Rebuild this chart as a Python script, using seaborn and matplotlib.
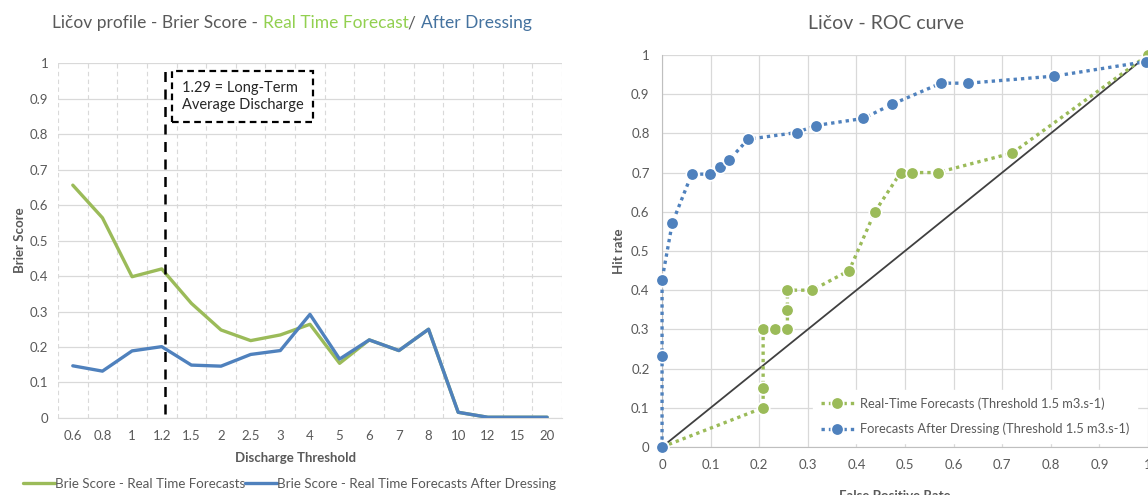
import matplotlib
matplotlib.use("Agg")
import matplotlib.pyplot as plt
import matplotlib.ticker as mticker
import seaborn as sns
import pandas as pd

# --- data: Brier score profile ---
thresholds = ["0.6", "0.8", "1", "1.2", "1.5", "2", "2.5", "3", "4", "5",
              "6", "7", "8", "10", "12", "15", "20"]
bs_real_time = [0.656, 0.564, 0.398, 0.420, 0.323, 0.248, 0.218, 0.234, 0.264,
                0.154, 0.220, 0.190, 0.250, 0.016, 0.002, 0.002, 0.002]
bs_dressed = [0.147, 0.132, 0.189, 0.201, 0.149, 0.146, 0.179, 0.190, 0.292,
              0.166, 0.220, 0.190, 0.250, 0.016, 0.002, 0.002, 0.002]
long_term_label = "1.29 = Long-Term\nAverage Discharge"

# --- data: ROC curve ---
fpr_real_time = [0, 0.208, 0.208, 0.208, 0.232, 0.258, 0.258, 0.258, 0.309,
                 0.385, 0.438, 0.491, 0.515, 0.567, 0.721, 1.0]
hit_real_time = [0, 0.10, 0.15, 0.30, 0.30, 0.30, 0.35, 0.40, 0.40,
                 0.45, 0.60, 0.70, 0.70, 0.70, 0.75, 1.0]
fpr_dressed = [0, 0, 0, 0.021, 0.061, 0.099, 0.119, 0.138, 0.177, 0.277,
               0.316, 0.414, 0.473, 0.574, 0.630, 0.807, 0.996]
hit_dressed = [0, 0.232, 0.427, 0.571, 0.696, 0.696, 0.715, 0.732, 0.785,
               0.802, 0.820, 0.838, 0.874, 0.928, 0.928, 0.946, 0.983]
diag = [0, 1]

lab_rt = "Brie Score - Real Time Forecasts"
lab_dr = "Brie Score - Real Time Forecasts After Dressing"
roc_rt = "Real-Time Forecasts (Threshold 1.5 m3.s-1)"
roc_dr = "Forecasts After Dressing (Threshold 1.5 m3.s-1)"

GREEN = "#9BBB59"
BLUE = "#4F81BD"
GREY = "#595959"
GRID = "#D9D9D9"

sns.set_style("white")
plt.rcParams["font.family"] = ["Lato", "DejaVu Sans"]
plt.rcParams["axes.unicode_minus"] = False

fig = plt.figure(figsize=(11.48, 4.95), dpi=100)
ax1 = fig.add_axes([0.0505, 0.1556, 0.439, 0.717])
ax2 = fig.add_axes([0.5767, 0.097, 0.4233, 0.792])

# ---------------- left: Brier score ----------------
df = pd.DataFrame({
    "threshold": thresholds * 2,
    "score": bs_real_time + bs_dressed,
    "series": [lab_rt] * len(thresholds) + [lab_dr] * len(thresholds),
})
sns.lineplot(data=df, x="threshold", y="score", hue="series", sort=False,
             palette=[GREEN, BLUE], linewidth=2.4, ax=ax1, zorder=3)

ax1.set_xlim(-0.5, len(thresholds) - 0.5)
ax1.set_ylim(0, 1)
ax1.yaxis.set_major_locator(mticker.MultipleLocator(0.1))
ax1.yaxis.set_major_formatter(mticker.FuncFormatter(lambda v, p: f"{v:g}"))
ax1.set_xticks([i + 0.5 for i in range(-1, len(thresholds))], minor=True)
ax1.grid(axis="y", which="major", color=GRID, lw=0.9)
ax1.grid(axis="x", which="minor", color=GRID, lw=0.8, ls=(0, (4, 3)))
ax1.tick_params(axis="both", which="both", length=0, labelsize=9.5, labelcolor=GREY)
ax1.tick_params(axis="x", pad=9)
ax1.tick_params(axis="y", pad=7)
for s in ["top", "right", "left"]:
    ax1.spines[s].set_visible(False)
ax1.spines["bottom"].set_color(GRID)

ax1.axvline(3.1, ymin=0.01, ymax=0.985, color="black", lw=1.8, ls=(0, (4, 3)), zorder=4)
ax1.text(3.68, 0.906, long_term_label, fontsize=10.5, color="#262626", va="center",
         linespacing=1.3,
         bbox=dict(boxstyle="square,pad=0.65", fc="white", ec="black", lw=1.6,
                   ls=(0, (3, 2))), zorder=5)

ax1.set_xlabel("Discharge Threshold", fontsize=9.5, fontweight="bold", color=GREY)
ax1.xaxis.set_label_coords(0.472, -0.095)
ax1.set_ylabel("Brier Score", fontsize=9.5, fontweight="bold", color=GREY, labelpad=3)
ax1.legend(loc="upper center", bbox_to_anchor=(0.46, -0.135), ncol=2, frameon=False,
           fontsize=9.6, handlelength=2.4, columnspacing=0.0, handletextpad=0.0,
           labelcolor=GREY)

# multi-coloured title
t1 = fig.text(0.0453, 0.943, "Ličov profile - Brier Score - ", fontsize=12.5,
              color=GREY, va="baseline")
t2 = ax1.annotate("Real Time Forecast", xycoords=t1, xy=(1, 0), va="bottom",
                  fontsize=12.5, color="#92D050")
t3 = ax1.annotate("/ ", xycoords=t2, xy=(1, 0), va="bottom", fontsize=12.5, color=GREY)
ax1.annotate("After Dressing", xycoords=t3, xy=(1, 0), va="bottom",
             fontsize=12.5, color="#44729F")

# ---------------- right: ROC curve ----------------
sns.lineplot(x=diag, y=diag, color="#404040", lw=1.3, ax=ax2, zorder=2)
sns.lineplot(x=fpr_real_time, y=hit_real_time, sort=False, estimator=None,
             color=GREEN, lw=2.4, ls=(0, (1, 1.2)), marker="o", markersize=9,
             markeredgecolor="white", markeredgewidth=1.2, label=roc_rt,
             ax=ax2, zorder=3, clip_on=False)
sns.lineplot(x=fpr_dressed, y=hit_dressed, sort=False, estimator=None,
             color=BLUE, lw=2.4, ls=(0, (1, 1.2)), marker="o", markersize=9,
             markeredgecolor="white", markeredgewidth=1.2, label=roc_dr,
             ax=ax2, zorder=3, clip_on=False)

ax2.set_xlim(0, 1)
ax2.set_ylim(0, 1)
ax2.xaxis.set_major_locator(mticker.MultipleLocator(0.1))
ax2.yaxis.set_major_locator(mticker.MultipleLocator(0.1))
fmt = mticker.FuncFormatter(lambda v, p: f"{v:g}")
ax2.xaxis.set_major_formatter(fmt)
ax2.yaxis.set_major_formatter(fmt)
ax2.grid(True, color=GRID, lw=0.9)
ax2.set_axisbelow(True)
ax2.tick_params(axis="both", length=0, labelsize=9.5, labelcolor=GREY)
ax2.tick_params(axis="x", pad=9)
ax2.tick_params(axis="y", pad=9)
for s in ["top", "right"]:
    ax2.spines[s].set_visible(False)
ax2.spines["left"].set_color("#BFBFBF")
ax2.spines["bottom"].set_color("#BFBFBF")

ax2.set_xlabel("False Positive Rate", fontsize=9.5, fontweight="bold", color=GREY)
ax2.xaxis.set_label_coords(0.48, -0.11)
ax2.set_ylabel("Hit rate", fontsize=9.5, fontweight="bold", color=GREY, labelpad=4)
leg = ax2.legend(loc="lower left", bbox_to_anchor=(0.311, 0.01), fontsize=9.3,
                 frameon=True, framealpha=1, edgecolor="white", fancybox=False,
                 handlelength=2.55, handletextpad=0.45, labelspacing=1.0,
                 borderpad=0.6, borderaxespad=0.0, labelcolor=GREY)
leg.set_zorder(5)

fig.text(0.772, 0.952, "Ličov - ROC curve", fontsize=14, color=GREY,
         ha="center", va="center")

fig.savefig("out.png", dpi=100)
